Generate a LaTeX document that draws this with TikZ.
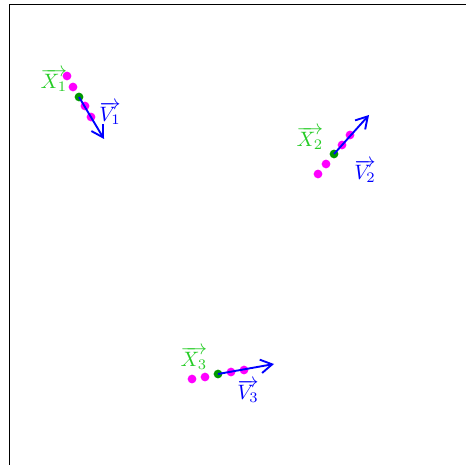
\documentclass[tikz,border=0pt]{standalone}
\usetikzlibrary{arrows.meta}
\definecolor{mg}{rgb}{1,0,1}
\definecolor{gt}{rgb}{0.15,0.8,0.15}
\definecolor{gd}{rgb}{0,0.6,0}
\begin{document}
\begin{tikzpicture}[x=0.48pt,y=-0.48pt,
  mdot/.style={circle,fill=mg,inner sep=0pt,minimum size=4.2pt},
  gdot/.style={circle,fill=gd,inner sep=0pt,minimum size=4.2pt},
  vel/.style={blue,line width=0.9pt,-{Straight Barb[length=5.5pt,width=6.5pt]}},
  xlab/.style={text=gt,inner sep=0pt},
  vlab/.style={text=blue,inner sep=0pt}]
\useasboundingbox (0,0) rectangle (465,465);
\draw (9,520) -- (9,4) -- (520,4);
% group 1
\node[mdot] (a1) at (67,76) {};
\node[mdot] (a2) at (73,87) {};
\node[mdot] (a3) at (85,106) {};
\node[mdot] (a4) at (91,117) {};
\node[gdot] (g1) at (79,97) {};
\coordinate (e1) at (104,139);
\draw[vel] (g1.center) -- (e1);
\node[xlab] (x1) at (54,80) {$\overrightarrow{X_1}$};
\node[vlab] (v1) at (110,113) {$\overrightarrow{V_1}$};
% group 2
\node[mdot] (b1) at (318,174) {};
\node[mdot] (b2) at (326,164) {};
\node[mdot] (b3) at (342,145) {};
\node[mdot] (b4) at (350,135) {};
\node[gdot] (g2) at (334,154) {};
\coordinate (e2) at (369,115);
\draw[vel] (g2.center) -- (e2);
\node[xlab] (x2) at (310,138) {$\overrightarrow{X_2}$};
\node[vlab] (v2) at (365,171) {$\overrightarrow{V_2}$};
% group 3
\node[mdot] (c1) at (192,379) {};
\node[mdot] (c2) at (205,377) {};
\node[mdot] (c3) at (231,372) {};
\node[mdot] (c4) at (244,370) {};
\node[gdot] (g3) at (218,374) {};
\coordinate (e3) at (274,364);
\draw[vel] (g3.center) -- (e3);
\node[xlab] (x3) at (194,358) {$\overrightarrow{X_3}$};
\node[vlab] (v3) at (248,391) {$\overrightarrow{V_3}$};
\end{tikzpicture}
\end{document}
